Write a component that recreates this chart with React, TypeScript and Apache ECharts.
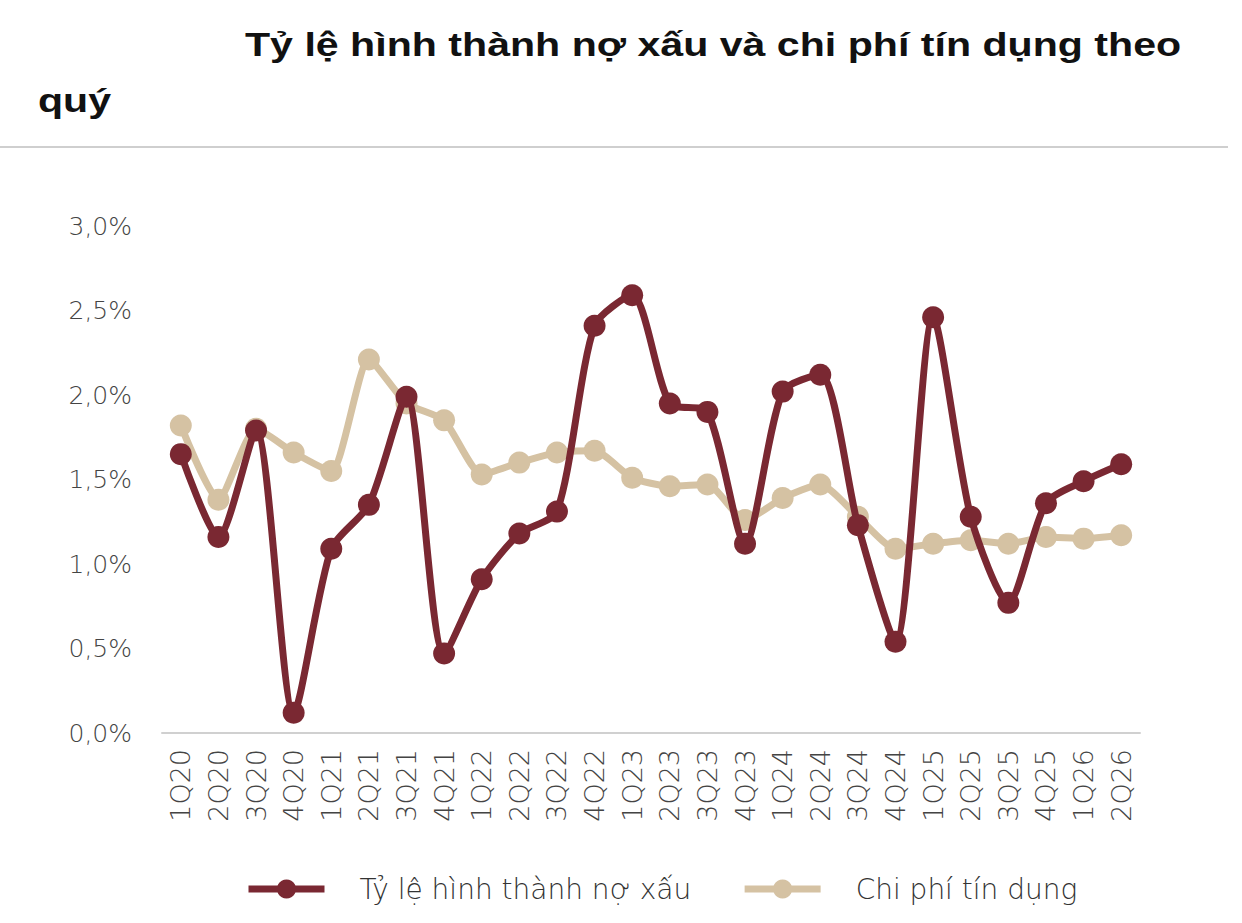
import * as echarts from 'echarts';
import React, { useEffect, useRef } from 'react';

const quarters = [
  '1Q20', '2Q20', '3Q20', '4Q20', '1Q21', '2Q21', '3Q21', '4Q21', '1Q22', '2Q22', '3Q22', '4Q22', '1Q23',
  '2Q23', '3Q23', '4Q23', '1Q24', '2Q24', '3Q24', '4Q24', '1Q25', '2Q25', '3Q25', '4Q25', '1Q26', '2Q26',
];

// % values
const nplFormation = [
  1.65, 1.16, 1.79, 0.12, 1.09, 1.35, 1.99, 0.47, 0.91, 1.18, 1.31, 2.41, 2.59,
  1.95, 1.9, 1.12, 2.02, 2.12, 1.23, 0.54, 2.46, 1.28, 0.77, 1.36, 1.49, 1.59,
];
const creditCost = [
  1.82, 1.38, 1.8, 1.66, 1.55, 2.21, 1.95, 1.85, 1.53, 1.6, 1.66, 1.67, 1.51,
  1.46, 1.47, 1.26, 1.39, 1.47, 1.28, 1.09, 1.12, 1.14, 1.12, 1.16, 1.15, 1.17,
];

const seriesNames = ['Tỷ lệ hình thành nợ xấu', 'Chi phí tín dụng'];
const titleLines = ['Tỷ lệ hình thành nợ xấu và chi phí tín dụng theo', 'quý'];

const RED = '#7a2832';
const BEIGE = '#d5c2a3';
const LABEL_FONT = "'DejaVu Sans', 'Open Sans', sans-serif";
const TITLE_FONT = "'Liberation Sans', Arial, sans-serif";

export default function App(): React.ReactElement {
  const ref = useRef<HTMLDivElement>(null);

  useEffect(() => {
    if (!ref.current) return;
    const chart = echarts.init(ref.current, undefined, { renderer: 'svg' });

    const line = (name: string, data: number[], color: string, z: number, smooth: number) => ({
      name,
      type: 'line',
      data,
      z,
      smooth,
      symbol: 'circle',
      symbolSize: 22,
      lineStyle: { color, width: 7 },
      itemStyle: { color },
    });

    const titleText = (text: string, x: number, y: number) => ({
      type: 'text',
      x,
      y,
      scaleX: 1.21,
      style: {
        text,
        font: `bold 34px ${TITLE_FONT}`,
        fill: '#111',
        verticalAlign: 'top',
      },
    });

    chart.setOption({
      animation: false,
      backgroundColor: '#ffffff',
      graphic: [
        titleText(titleLines[0], 245, 27),
        titleText(titleLines[1], 38, 83),
        {
          type: 'line',
          shape: { x1: 0, y1: 147, x2: 1228, y2: 147 },
          style: { stroke: '#cfcfcf', lineWidth: 2 },
        },
      ],
      legend: {
        bottom: 20,
        left: 245,
        padding: 0,
        itemWidth: 76,
        itemHeight: 24,
        itemGap: 50,
        lineStyle: { width: 7 },
        textStyle: { fontFamily: LABEL_FONT, fontWeight: 200, fontSize: 28, color: '#333', padding: [0, 0, 0, 30] },
        data: seriesNames,
      },
      grid: { left: 162, right: 102, top: 226, bottom: 190, containLabel: false },
      xAxis: {
        type: 'category',
        data: quarters,
        boundaryGap: true,
        axisLine: { lineStyle: { color: '#d0d0d0', width: 2 } },
        axisTick: { show: false },
        axisLabel: { rotate: 90, fontFamily: LABEL_FONT, fontWeight: 200, fontSize: 27, color: '#444', margin: 16, interval: 0 },
      },
      yAxis: {
        type: 'value',
        min: 0,
        max: 3,
        interval: 0.5,
        axisLine: { show: false },
        axisTick: { show: false },
        splitLine: { show: false },
        axisLabel: {
          fontFamily: LABEL_FONT,
          fontWeight: 200,
          fontSize: 25,
          color: '#444',
          margin: 30,
          formatter: (v: number) => v.toFixed(1).replace('.', ',') + '%',
        },
      },
      series: [line(seriesNames[0], nplFormation, RED, 3, 0.25), line(seriesNames[1], creditCost, BEIGE, 2, 0.2)],
    });

    return () => chart.dispose();
  }, []);

  return <div ref={ref} style={{ position: 'absolute', left: 0, top: 0, width: 1242, height: 923 }} />;
}
